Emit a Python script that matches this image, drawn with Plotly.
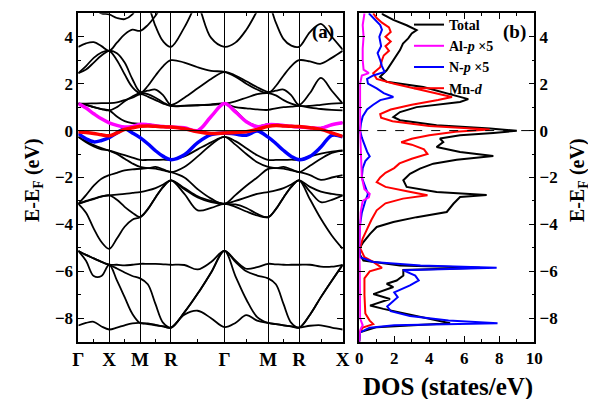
import plotly.graph_objects as go

# ---------------- band structure data ----------------
k_path = [0, 0.125, 0.25, 0.375, 0.5, 0.625, 0.75, 0.875, 1.0, 1.125, 1.25, 1.375, 1.5,
          1.717, 1.933, 2.150, 2.366, 2.543, 2.720, 2.896, 3.073, 3.198, 3.323, 3.448, 3.573,
          3.750, 3.927, 4.103, 4.280]
k_sym = [0, 0.5, 1.0, 1.5, 2.366, 3.073, 3.573, 4.280]
k_sym_labels = ["Γ", "X", "M", "R", "Γ", "M", "R", "X"]

bands_upper = [
    [3.57, 3.72, 3.77, 3.6, 3.4, 3.75, 4.1, 4.3, 4.25, 4.5, 4.9, 5.4, 5.9,
     6.2, 5.4, 3.95, 3.57, 3.75, 4.3, 5.1, 5.9, 6.0, 6.0, 6.0, 6.0, 5.9, 5.7, 5.4, 5.2],
    [5.8, 5.5, 5.2, 5.0, 4.95, 4.8, 4.75, 4.95, 5.5, 5.3, 4.45, 3.8, 3.57,
     4.4, 5.5, 6.2, 6.3, 6.2, 6.0, 5.6, 5.4, 4.6, 3.9, 3.62, 3.57, 4.2, 4.55, 4.0, 3.45],
    [2.45, 2.75, 3.1, 3.33, 3.4, 3.0, 2.4, 1.85, 1.6, 1.9, 2.35, 2.75, 3.0,
     2.9, 2.7, 2.55, 2.5, 2.3, 2.0, 1.75, 1.6, 1.9, 2.35, 2.75, 3.0, 2.95, 2.85, 3.1, 3.4],
    [2.45, 2.6, 2.9, 3.2, 3.4, 3.3, 2.9, 2.2, 1.65, 1.7, 1.75, 1.5, 1.1,
     1.4, 1.8, 2.2, 2.5, 2.35, 2.1, 1.85, 1.65, 1.7, 1.75, 1.5, 1.1, 1.6, 2.25, 1.7, 1.15],
    [1.15, 1.15, 1.16, 1.17, 1.17, 1.2, 1.3, 1.4, 1.55, 1.45, 1.3, 1.15, 1.05,
     1.06, 1.08, 1.1, 1.15, 1.25, 1.4, 1.55, 1.6, 1.5, 1.3, 1.15, 1.05, 1.05, 1.1, 1.15, 1.17],
    [1.15, 1.1, 1.0, 0.92, 0.86, 1.0, 1.25, 1.45, 1.6, 1.55, 1.4, 1.2, 1.05,
     1.05, 1.08, 1.12, 1.15, 1.0, 0.95, 0.9, 0.88, 0.95, 1.0, 1.02, 1.05, 0.98, 0.92, 0.88, 0.86],
    [1.15, 1.1, 1.0, 0.92, 0.86, 0.6, 0.4, 0.32, 0.29, 0.27, 0.22, 0.18, 0.16,
     0.12, 0.02, 0.58, 1.15, 0.85, 0.4, 0.2, 0.27, 0.27, 0.22, 0.18, 0.16, 0.13, 0.12, 0.25, 0.34],
]

bands_middle = [
    [-0.27, -0.45, -0.62, -0.75, -0.85, -0.95, -1.05, -1.15, -1.25, -1.25, -1.25, -1.24, -1.24,
     -1.1, -0.8, -0.5, -0.27, -0.45, -0.75, -1.05, -1.25, -1.25, -1.25, -1.24, -1.24, -1.1, -0.98, -0.9, -0.85],
    [-0.27, -0.5, -0.68, -0.8, -0.85, -1.0, -1.2, -1.4, -1.55, -1.6, -1.55, -1.65, -1.77,
     -1.55, -1.1, -0.6, -0.27, -0.6, -1.0, -1.35, -1.55, -1.6, -1.55, -1.65, -1.77, -1.5, -1.2, -0.95, -0.85],
    [-3.12, -3.0, -2.9, -2.8, -2.76, -2.73, -2.7, -2.66, -2.62, -2.55, -2.45, -2.3, -2.12,
     -2.5, -2.85, -3.05, -3.12, -3.0, -2.85, -2.7, -2.62, -2.55, -2.45, -2.3, -2.12, -2.4, -2.6, -2.7, -2.76],
    [-3.12, -3.5, -4.18, -4.75, -5.04, -4.6, -4.1, -3.8, -3.69, -3.35, -2.85, -2.4, -2.12,
     -2.7, -3.4, -3.3, -3.12, -3.25, -3.45, -3.62, -3.69, -3.35, -2.85, -2.4, -2.12, -2.93, -3.76, -4.47, -5.04],
    [-3.12, -3.02, -2.92, -2.82, -2.76, -2.95, -3.25, -3.5, -3.69, -3.35, -2.85, -2.4, -2.12,
     -2.45, -2.8, -3.0, -3.12, -3.15, -3.3, -3.55, -3.69, -3.35, -2.85, -2.4, -2.12, -2.6, -3.05, -2.95, -2.76],
    [-3.12, -2.75, -2.35, -2.05, -1.9, -1.8, -1.7, -1.65, -1.63, -1.6, -1.62, -1.7, -1.77,
     -2.0, -2.5, -2.9, -3.12, -2.75, -2.35, -2.0, -1.63, -1.6, -1.62, -1.7, -1.77, -1.9, -2.1, -2.0, -1.9],
]

bands_lower = [
    [-5.13, -5.3, -5.45, -5.6, -5.72, -5.72, -5.75, -5.72, -5.68, -5.68, -5.68, -5.7, -5.72,
     -5.73, -5.92, -5.6, -5.13, -5.54, -5.89, -5.82, -5.68, -5.7, -5.72, -5.72, -5.72, -5.72, -5.8, -5.8, -5.72],
    [-5.13, -5.3, -5.45, -5.6, -5.72, -5.88, -6.05, -6.2, -6.3, -6.55, -7.4, -8.2, -8.4,
     -7.75, -6.95, -6.05, -5.13, -5.6, -6.0, -6.18, -6.3, -6.55, -7.4, -8.2, -8.4, -7.85, -7.1, -6.4, -5.72],
    [-5.13, -5.55, -6.2, -6.2, -5.72, -6.39, -7.1, -7.81, -8.2, -8.22, -8.28, -8.35, -8.4,
     -7.75, -6.95, -6.05, -5.13, -6.2, -7.2, -7.95, -8.2, -8.25, -8.3, -8.35, -8.4, -7.85, -7.1, -6.4, -5.72],
    [-8.31, -8.2, -8.15, -8.35, -8.48, -8.4, -8.3, -8.22, -8.2, -8.25, -8.3, -8.35, -8.4,
     -7.85, -7.68, -8.0, -8.38, -8.2, -7.87, -8.1, -8.2, -8.25, -8.3, -8.35, -8.4, -8.32, -8.3, -8.4, -8.48],
]

band_np = [-0.13, -0.35, -0.48, -0.42, -0.3, -0.1, 0.08, -0.1, -0.3, -0.56, -0.86, -1.1, -1.24,
           -1.03, -0.51, -0.17, -0.1, -0.15, -0.2, -0.02, -0.28, -0.55, -0.85, -1.1, -1.24, -1.1, -0.7, -0.2, -0.27]
band_mnd = [-0.05, -0.08, -0.12, -0.18, -0.22, -0.1, 0.05, 0.12, 0.18, 0.2, 0.18, 0.16, 0.15,
            0.08, -0.05, -0.12, -0.1, -0.08, -0.05, 0.05, 0.18, 0.22, 0.2, 0.18, 0.17, 0.12, 0.05, -0.1, -0.25]
band_alp = [1.15, 0.96, 0.72, 0.5, 0.33, 0.22, 0.15, 0.18, 0.27, 0.25, 0.2, 0.17, 0.15,
            0.12, 0.0, 0.6, 1.15, 0.8, 0.38, 0.17, 0.25, 0.25, 0.22, 0.18, 0.15, 0.12, 0.1, 0.25, 0.33]

# ---------------- DOS data ----------------
e_total = [5.0, 4.94, 4.72, 4.49, 4.28, 4.14, 3.93, 3.71, 3.43, 3.21, 2.93, 2.57, 2.29, 2.08, 1.86, 1.58,
           1.34, 1.22, 1.0, 0.79, 0.58, 0.44, 0.23, 0.09, -0.01, -0.1, -0.2, -0.34, -0.49, -0.7, -0.91,
           -1.08, -1.24, -1.41, -1.62, -1.84, -2.12, -2.4, -2.62, -2.75, -2.83, -3.12, -3.47, -3.69, -3.9,
           -4.11, -4.4, -4.75, -5.04, -5.3, -5.54, -5.75, -5.85, -5.94, -6.18, -6.39, -6.53, -6.67, -6.97,
           -7.18, -7.46, -7.6, -7.81, -8.03, -8.21, -8.38, -8.6, -9.0]
dos_total = [1.3, 1.38, 1.95, 2.71, 3.28, 3.0, 2.8, 2.5, 2.33, 2.14, 1.85, 1.57, 1.19, 1.57, 3.66, 5.0,
             6.23, 5.76, 3.28, 2.33, 1.95, 2.33, 4.42, 7.47, 9.0, 7.66, 5.76, 4.61, 4.8, 4.42, 5.76,
             7.66, 5.57, 4.23, 3.47, 2.9, 2.52, 2.71, 4.42, 7.28, 5.76, 5.38, 5.0, 3.28, 1.95,
             1.0, 0.62, 0.24, 0.0, 0.05, 0.24, 2.33, 6.9, 2.52, 2.52, 2.14, 1.57, 1.95, 0.81,
             1.76, 0.62, 1.38, 2.71, 4.23, 5.19, 1.0, 0.03, 0.0]

e_np = [5.0, 4.8, 4.5, 4.3, 4.0, 3.6, 3.3, 3.0, 2.75, 2.5, 2.35, 2.2, 2.0, 1.8, 1.6, 1.43, 1.3, 1.1, 0.9,
        0.6, 0.3, 0.0, -0.3, -0.6, -0.9, -1.1, -1.3, -1.6, -2.0, -2.3, -2.7, -3.0, -3.5, -4.0, -5.0,
        -5.4, -5.6, -5.75, -5.85, -5.95, -6.18, -6.39, -6.6, -6.9, -7.1, -7.5, -7.7, -7.9, -8.1, -8.21,
        -8.3, -8.4, -8.6, -9.0]
dos_np = [0.55, 0.8, 1.2, 1.3, 1.15, 1.25, 1.05, 1.2, 1.3, 1.45, 0.8, 0.45, 0.5, 1.0, 1.4, 1.95, 1.2, 0.8,
          0.45, 0.2, 0.1, 0.05, 0.15, 0.3, 0.45, 0.6, 0.35, 0.2, 0.15, 0.3, 0.5, 0.35, 0.15, 0.05, 0.0,
          0.05, 0.8, 3.5, 7.85, 2.5, 3.2, 3.4, 2.9, 2.0, 2.2, 1.6, 1.8, 2.9, 5.1, 7.9,
          2.0, 0.6, 0.05, 0.0]

e_mnd = [5.0, 4.8, 4.6, 4.4, 4.2, 4.0, 3.8, 3.6, 3.4, 3.2, 3.0, 2.7, 2.45, 2.2, 2.0, 1.8, 1.6, 1.43, 1.3,
         1.1, 0.9, 0.7, 0.55, 0.4, 0.2, 0.05, -0.05, -0.2, -0.35, -0.5, -0.6, -0.8, -1.0, -1.2, -1.4,
         -1.6, -1.8, -2.0, -2.2, -2.4, -2.6, -2.76, -2.9, -3.1, -3.4, -3.8, -4.2, -4.6, -5.0, -5.4,
         -5.6, -5.85, -6.0, -6.3, -7.0, -7.8, -8.1, -8.25, -8.4, -8.6, -9.0]
dos_mnd = [0.8, 1.0, 1.3, 1.7, 1.8, 1.5, 1.8, 1.5, 1.7, 1.4, 1.3, 1.2, 0.8, 1.0, 2.0, 3.2, 4.3, 5.3, 4.5,
           3.0, 1.8, 1.2, 1.25, 1.9, 4.0, 7.45, 5.5, 4.0, 3.0, 2.4, 3.0, 3.7, 3.9, 3.0, 2.3,
           2.0, 1.5, 1.2, 1.0, 1.5, 2.8, 3.9, 2.5, 1.5, 1.0, 0.7, 0.45, 0.2, 0.05, 0.3,
           0.8, 1.3, 0.6, 0.3, 0.3, 0.35, 0.6, 0.8, 0.2, 0.02, 0.0]

e_alp = [5.0, 4.5, 4.0, 3.5, 3.0, 2.6, 2.45, 2.35, 2.0, 1.0, 0.0, -1.0, -2.0, -2.5, -2.7, -2.85, -3.0,
         -3.5, -5.0, -6.0, -8.0, -8.3, -8.5, -9.0]
dos_alp = [0.3, 0.2, 0.25, 0.2, 0.2, 0.25, 0.55, 0.15, 0.05, 0.03, 0.05, 0.1, 0.15, 0.3, 0.6, 0.55, 0.2,
           0.08, 0.0, 0.03, 0.05, 0.2, 0.05, 0.0]

FONT = "Liberation Serif"
BLACK = "black"
C_ALP = "#ff00ff"
C_NP = "#0000ff"
C_MND = "#ff0000"

fig = go.Figure()

for group in (bands_lower, bands_middle, bands_upper):
    for b in group:
        fig.add_trace(go.Scatter(x=k_path, y=b, mode="lines", showlegend=False,
                                 line=dict(color=BLACK, width=1.8, shape="spline", smoothing=1.0),
                                 hoverinfo="skip", xaxis="x", yaxis="y"))

for b, c in ((band_np, C_NP), (band_alp, C_ALP), (band_mnd, C_MND)):
    fig.add_trace(go.Scatter(x=k_path, y=b, mode="lines", showlegend=False,
                             line=dict(color=c, width=3.5, shape="spline", smoothing=1.0),
                             hoverinfo="skip", xaxis="x", yaxis="y"))

# DOS
fig.add_trace(go.Scatter(x=dos_total, y=e_total, mode="lines", name="Total", legendrank=1,
                         line=dict(color=BLACK, width=2), xaxis="x2", yaxis="y2"))
fig.add_trace(go.Scatter(x=dos_mnd, y=e_mnd, mode="lines", name="Mn-<i>d</i>", legendrank=4,
                         line=dict(color=C_MND, width=2), xaxis="x2", yaxis="y2"))
fig.add_trace(go.Scatter(x=dos_np, y=e_np, mode="lines", name="N-<i>p</i> ×5", legendrank=3,
                         line=dict(color=C_NP, width=2), xaxis="x2", yaxis="y2"))
fig.add_trace(go.Scatter(x=dos_alp, y=e_alp, mode="lines", name="Al-<i>p</i> ×5", legendrank=2,
                         line=dict(color=C_ALP, width=2), xaxis="x2", yaxis="y2"))

# page body adds an 8px offset; layout pixel positions below are in reference-image pixels
W, H = 596, 399
OFF = 8


def px(x):
    return (x - OFF) / W


def py(y):
    return (H - (y - OFF)) / H


def axis_style(size=17):
    return dict(showline=True, linecolor=BLACK, linewidth=1.6, mirror="allticks",
                ticks="inside", ticklen=6, tickwidth=1.4, tickcolor=BLACK, zeroline=False,
                tickfont=dict(family=FONT, size=size, color=BLACK, weight="bold"))


def label(text, x, y, size, angle=0):
    return dict(text=text, x=px(x), y=py(y), xref="paper", yref="paper", showarrow=False,
                xanchor="center", yanchor="middle", textangle=angle,
                font=dict(family=FONT, size=size, color=BLACK, weight="bold"))


fig.update_layout(
    width=W, height=H,
    margin=dict(l=0, r=0, t=0, b=0, autoexpand=False),
    paper_bgcolor="white", plot_bgcolor="white",
    font=dict(family=FONT, color=BLACK, weight="bold"),
    xaxis=dict(domain=[px(78.3), px(342.7)], range=[0, 4.280], tickvals=k_sym, ticktext=k_sym_labels,
               showgrid=True, gridcolor=BLACK, gridwidth=0.8,
               minor=dict(tickvals=[0.25, 0.75, 1.25, 1.93, 2.72, 3.32, 3.93], ticks="inside",
                          ticklen=3, tickcolor=BLACK, showgrid=False),
               **axis_style(19)),
    yaxis=dict(domain=[py(341.7), py(13.3)], range=[-9, 5], tickvals=[-8, -6, -4, -2, 0, 2, 4], showgrid=False,
               minor=dict(tickvals=[-9, -7, -5, -3, -1, 1, 3, 5], ticks="inside", ticklen=3, tickcolor=BLACK),
               **axis_style(17)),
    xaxis2=dict(domain=[px(359.2), px(534.3)], range=[0, 10], tickvals=[0, 2, 4, 6, 8, 10], anchor="y2",
                showgrid=False,
                minor=dict(tickvals=[1, 3, 5, 7, 9], ticks="inside", ticklen=3, tickcolor=BLACK),
                **axis_style(17)),
    yaxis2=dict(domain=[py(341.7), py(13.3)], range=[-9, 5], tickvals=[-8, -6, -4, -2, 0, 2, 4], anchor="x2",
                side="right", showgrid=False,
                minor=dict(tickvals=[-9, -7, -5, -3, -1, 1, 3, 5], ticks="inside", ticklen=3, tickcolor=BLACK),
                **axis_style(17)),
    legend=dict(x=px(409), y=py(9), xanchor="left", yanchor="top", bgcolor="rgba(0,0,0,0)",
                font=dict(family=FONT, size=14, color=BLACK, weight="bold"), tracegroupgap=0),
    shapes=[
        dict(type="line", xref="x domain", yref="y", x0=0, x1=1, y0=0, y1=0,
             line=dict(color=BLACK, width=1)),
        dict(type="line", xref="x2 domain", yref="y2", x0=0, x1=1, y0=0, y1=0,
             line=dict(color=BLACK, width=1, dash="dash")),
    ],
    annotations=[
        label("(a)", 323, 32, 19),
        label("(b)", 514, 32, 19),
        label("E-E<sub>F</sub> (eV)", 33, 180, 20, -90),
        label("E-E<sub>F</sub> (eV)", 578, 180, 20, -90),
        label("DOS (states/eV)", 448, 387, 25),
    ],
)

fig.write_html("out.html")
